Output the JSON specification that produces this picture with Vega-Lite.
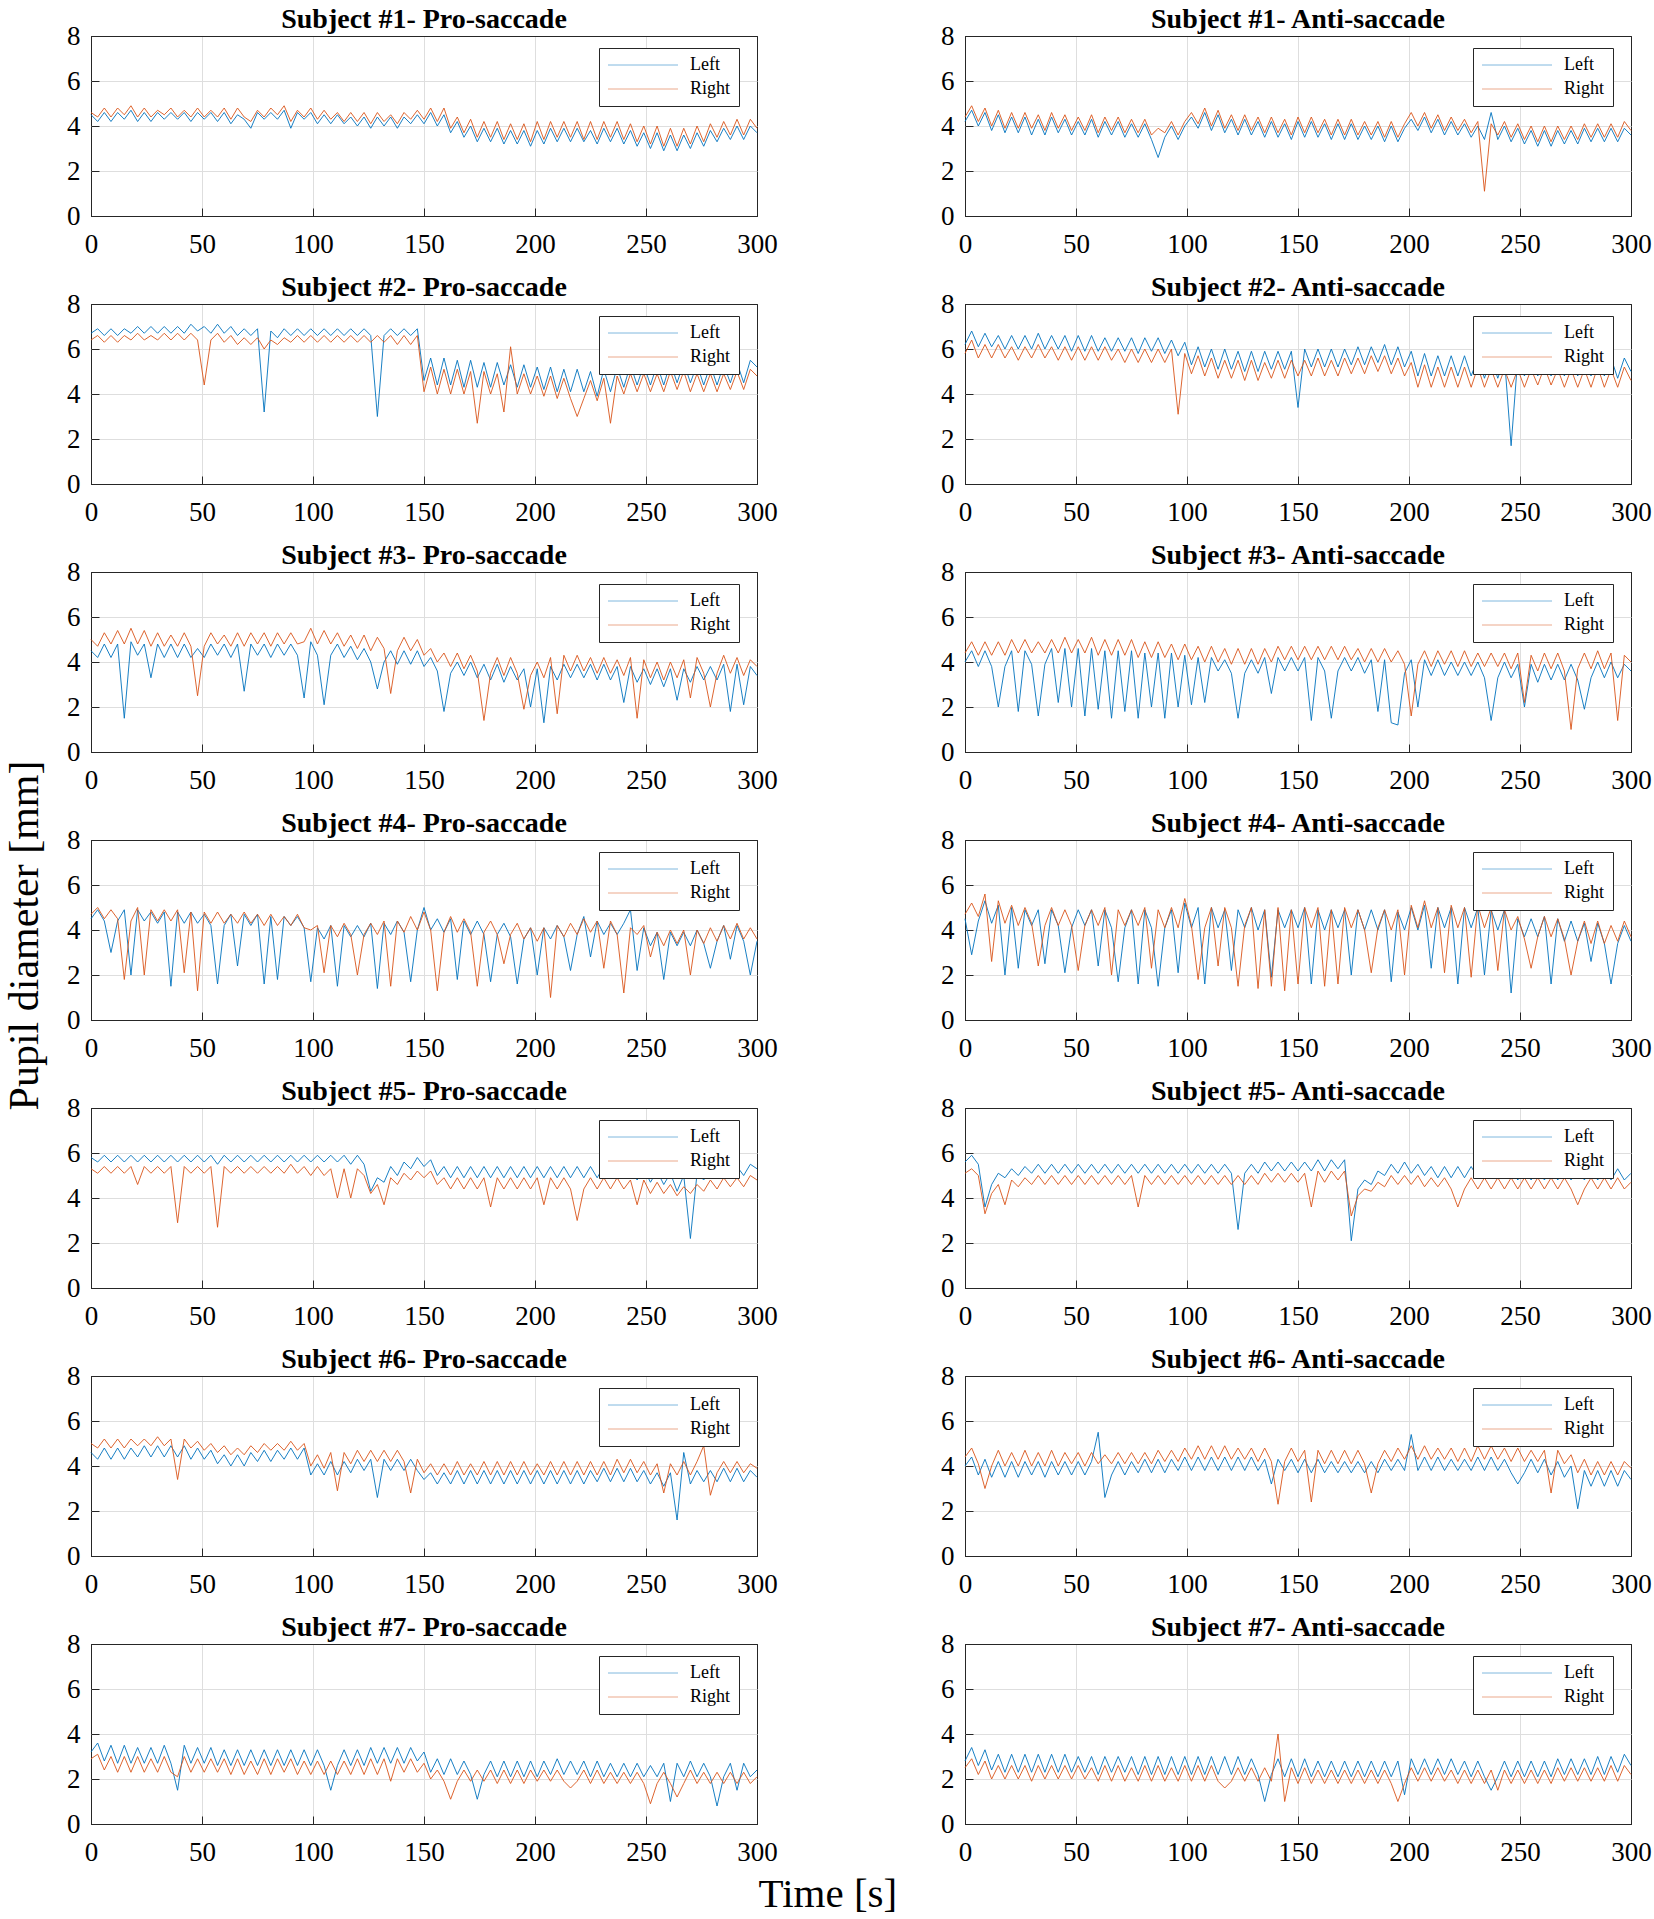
{
"$schema":"https://vega.github.io/schema/vega-lite/v6.json",
"padding":{"left":3,"top":5,"right":5,"bottom":2},
"datasets":{
"p1":[{"t":0,"L":4.5,"R":4.6},{"t":3,"L":4.2,"R":4.4},{"t":6,"L":4.6,"R":4.8},{"t":9,"L":4.2,"R":4.4},{"t":12,"L":4.6,"R":4.8},{"t":15,"L":4.3,"R":4.5},{"t":18,"L":4.7,"R":4.9},{"t":21,"L":4.2,"R":4.4},{"t":24,"L":4.6,"R":4.8},{"t":27,"L":4.2,"R":4.4},{"t":30,"L":4.6,"R":4.7},{"t":33,"L":4.3,"R":4.5},{"t":36,"L":4.6,"R":4.8},{"t":39,"L":4.3,"R":4.4},{"t":42,"L":4.6,"R":4.7},{"t":45,"L":4.2,"R":4.4},{"t":48,"L":4.6,"R":4.8},{"t":51,"L":4.3,"R":4.4},{"t":54,"L":4.6,"R":4.7},{"t":57,"L":4.2,"R":4.4},{"t":60,"L":4.6,"R":4.8},{"t":63,"L":4.1,"R":4.3},{"t":66,"L":4.5,"R":4.8},{"t":69,"L":4.3,"R":4.4},{"t":72,"L":3.9,"R":4.2},{"t":75,"L":4.6,"R":4.7},{"t":78,"L":4.3,"R":4.4},{"t":81,"L":4.6,"R":4.8},{"t":84,"L":4.3,"R":4.5},{"t":87,"L":4.7,"R":4.9},{"t":90,"L":3.9,"R":4.2},{"t":93,"L":4.6,"R":4.7},{"t":96,"L":4.3,"R":4.4},{"t":99,"L":4.6,"R":4.8},{"t":102,"L":4.1,"R":4.3},{"t":105,"L":4.5,"R":4.7},{"t":108,"L":4.1,"R":4.3},{"t":111,"L":4.5,"R":4.6},{"t":114,"L":4.1,"R":4.2},{"t":117,"L":4.4,"R":4.6},{"t":120,"L":4.0,"R":4.2},{"t":123,"L":4.4,"R":4.6},{"t":126,"L":3.9,"R":4.1},{"t":129,"L":4.4,"R":4.6},{"t":132,"L":4.0,"R":4.2},{"t":135,"L":4.4,"R":4.5},{"t":138,"L":3.9,"R":4.1},{"t":141,"L":4.4,"R":4.6},{"t":144,"L":4.1,"R":4.3},{"t":147,"L":4.5,"R":4.7},{"t":150,"L":4.1,"R":4.3},{"t":153,"L":4.6,"R":4.8},{"t":156,"L":4.0,"R":4.2},{"t":159,"L":4.5,"R":4.8},{"t":162,"L":3.7,"R":3.9},{"t":165,"L":4.2,"R":4.4},{"t":168,"L":3.5,"R":3.7},{"t":171,"L":4.0,"R":4.3},{"t":174,"L":3.3,"R":3.5},{"t":177,"L":3.9,"R":4.2},{"t":180,"L":3.3,"R":3.5},{"t":183,"L":3.9,"R":4.2},{"t":186,"L":3.2,"R":3.4},{"t":189,"L":3.8,"R":4.1},{"t":192,"L":3.2,"R":3.4},{"t":195,"L":3.8,"R":4.1},{"t":198,"L":3.1,"R":3.3},{"t":201,"L":3.8,"R":4.2},{"t":204,"L":3.2,"R":3.4},{"t":207,"L":3.9,"R":4.2},{"t":210,"L":3.3,"R":3.5},{"t":213,"L":3.9,"R":4.2},{"t":216,"L":3.3,"R":3.5},{"t":219,"L":3.9,"R":4.2},{"t":222,"L":3.3,"R":3.4},{"t":225,"L":3.8,"R":4.2},{"t":228,"L":3.2,"R":3.4},{"t":231,"L":3.9,"R":4.2},{"t":234,"L":3.3,"R":3.5},{"t":237,"L":3.9,"R":4.2},{"t":240,"L":3.2,"R":3.4},{"t":243,"L":3.8,"R":4.1},{"t":246,"L":3.1,"R":3.3},{"t":249,"L":3.7,"R":4.0},{"t":252,"L":3.0,"R":3.2},{"t":255,"L":3.7,"R":4.0},{"t":258,"L":2.9,"R":3.1},{"t":261,"L":3.6,"R":3.9},{"t":264,"L":2.9,"R":3.1},{"t":267,"L":3.6,"R":3.9},{"t":270,"L":3.0,"R":3.2},{"t":273,"L":3.7,"R":4.0},{"t":276,"L":3.1,"R":3.3},{"t":279,"L":3.8,"R":4.1},{"t":282,"L":3.3,"R":3.5},{"t":285,"L":3.9,"R":4.2},{"t":288,"L":3.4,"R":3.6},{"t":291,"L":4.0,"R":4.3},{"t":294,"L":3.4,"R":3.6},{"t":297,"L":4.0,"R":4.3},{"t":300,"L":3.7,"R":3.9}],
"p2":[{"t":0,"L":4.2,"R":4.4},{"t":3,"L":4.7,"R":4.9},{"t":6,"L":4.0,"R":4.2},{"t":9,"L":4.6,"R":4.8},{"t":12,"L":3.8,"R":4.0},{"t":15,"L":4.5,"R":4.7},{"t":18,"L":3.7,"R":3.9},{"t":21,"L":4.4,"R":4.6},{"t":24,"L":3.7,"R":3.9},{"t":27,"L":4.4,"R":4.6},{"t":30,"L":3.6,"R":3.9},{"t":33,"L":4.3,"R":4.5},{"t":36,"L":3.6,"R":3.8},{"t":39,"L":4.4,"R":4.6},{"t":42,"L":3.7,"R":3.9},{"t":45,"L":4.3,"R":4.5},{"t":48,"L":3.6,"R":3.8},{"t":51,"L":4.2,"R":4.4},{"t":54,"L":3.6,"R":3.8},{"t":57,"L":4.3,"R":4.5},{"t":60,"L":3.5,"R":3.7},{"t":63,"L":4.2,"R":4.4},{"t":66,"L":3.6,"R":3.8},{"t":69,"L":4.2,"R":4.4},{"t":72,"L":3.5,"R":3.7},{"t":75,"L":4.1,"R":4.3},{"t":78,"L":3.5,"R":3.7},{"t":81,"L":4.1,"R":4.3},{"t":84,"L":3.4,"R":3.6},{"t":87,"L":2.6,"R":3.9},{"t":90,"L":3.5,"R":3.7},{"t":93,"L":4.0,"R":4.2},{"t":96,"L":3.4,"R":3.6},{"t":99,"L":4.0,"R":4.2},{"t":102,"L":4.4,"R":4.6},{"t":105,"L":3.9,"R":4.1},{"t":108,"L":4.6,"R":4.8},{"t":111,"L":3.8,"R":4.0},{"t":114,"L":4.5,"R":4.7},{"t":117,"L":3.7,"R":3.9},{"t":120,"L":4.3,"R":4.5},{"t":123,"L":3.6,"R":3.8},{"t":126,"L":4.3,"R":4.5},{"t":129,"L":3.6,"R":3.8},{"t":132,"L":4.2,"R":4.4},{"t":135,"L":3.5,"R":3.7},{"t":138,"L":4.2,"R":4.4},{"t":141,"L":3.5,"R":3.7},{"t":144,"L":4.1,"R":4.3},{"t":147,"L":3.4,"R":3.6},{"t":150,"L":4.2,"R":4.4},{"t":153,"L":3.5,"R":3.7},{"t":156,"L":4.2,"R":4.4},{"t":159,"L":3.5,"R":3.7},{"t":162,"L":4.1,"R":4.3},{"t":165,"L":3.4,"R":3.6},{"t":168,"L":4.1,"R":4.3},{"t":171,"L":3.4,"R":3.6},{"t":174,"L":4.1,"R":4.3},{"t":177,"L":3.4,"R":3.6},{"t":180,"L":4.0,"R":4.2},{"t":183,"L":3.4,"R":3.6},{"t":186,"L":4.0,"R":4.2},{"t":189,"L":3.3,"R":3.5},{"t":192,"L":4.0,"R":4.2},{"t":195,"L":3.3,"R":3.5},{"t":198,"L":3.9,"R":4.1},{"t":201,"L":4.3,"R":4.6},{"t":204,"L":3.8,"R":4.0},{"t":207,"L":4.4,"R":4.6},{"t":210,"L":3.7,"R":3.9},{"t":213,"L":4.3,"R":4.5},{"t":216,"L":3.6,"R":3.8},{"t":219,"L":4.2,"R":4.4},{"t":222,"L":3.6,"R":3.8},{"t":225,"L":4.1,"R":4.3},{"t":228,"L":3.5,"R":3.7},{"t":231,"L":4.0,"R":4.2},{"t":234,"L":3.4,"R":1.1},{"t":237,"L":4.6,"R":4.1},{"t":240,"L":3.4,"R":3.6},{"t":243,"L":4.0,"R":4.2},{"t":246,"L":3.3,"R":3.5},{"t":249,"L":3.9,"R":4.1},{"t":252,"L":3.2,"R":3.4},{"t":255,"L":3.8,"R":4.0},{"t":258,"L":3.1,"R":3.3},{"t":261,"L":3.8,"R":4.0},{"t":264,"L":3.1,"R":3.3},{"t":267,"L":3.8,"R":4.0},{"t":270,"L":3.2,"R":3.4},{"t":273,"L":3.8,"R":4.0},{"t":276,"L":3.2,"R":3.4},{"t":279,"L":3.9,"R":4.1},{"t":282,"L":3.3,"R":3.5},{"t":285,"L":3.9,"R":4.1},{"t":288,"L":3.3,"R":3.5},{"t":291,"L":3.9,"R":4.1},{"t":294,"L":3.3,"R":3.5},{"t":297,"L":3.9,"R":4.2},{"t":300,"L":3.6,"R":3.8}],
"p3":[{"t":0,"L":6.7,"R":6.4},{"t":3,"L":6.9,"R":6.6},{"t":6,"L":6.6,"R":6.3},{"t":9,"L":6.9,"R":6.6},{"t":12,"L":6.6,"R":6.3},{"t":15,"L":6.9,"R":6.6},{"t":18,"L":6.7,"R":6.4},{"t":21,"L":7.0,"R":6.7},{"t":24,"L":6.7,"R":6.4},{"t":27,"L":7.0,"R":6.6},{"t":30,"L":6.7,"R":6.4},{"t":33,"L":7.0,"R":6.7},{"t":36,"L":6.7,"R":6.4},{"t":39,"L":7.0,"R":6.7},{"t":42,"L":6.7,"R":6.4},{"t":45,"L":7.1,"R":6.7},{"t":48,"L":6.8,"R":6.4},{"t":51,"L":7.0,"R":4.4},{"t":54,"L":6.7,"R":6.4},{"t":57,"L":7.1,"R":6.7},{"t":60,"L":6.7,"R":6.3},{"t":63,"L":7.0,"R":6.6},{"t":66,"L":6.6,"R":6.2},{"t":69,"L":6.9,"R":6.5},{"t":72,"L":6.6,"R":6.2},{"t":75,"L":6.9,"R":6.5},{"t":78,"L":3.2,"R":6.0},{"t":81,"L":6.8,"R":6.4},{"t":84,"L":6.5,"R":6.2},{"t":87,"L":6.9,"R":6.5},{"t":90,"L":6.6,"R":6.3},{"t":93,"L":6.9,"R":6.6},{"t":96,"L":6.6,"R":6.3},{"t":99,"L":6.9,"R":6.6},{"t":102,"L":6.6,"R":6.3},{"t":105,"L":6.9,"R":6.6},{"t":108,"L":6.6,"R":6.3},{"t":111,"L":6.9,"R":6.6},{"t":114,"L":6.6,"R":6.3},{"t":117,"L":6.9,"R":6.6},{"t":120,"L":6.6,"R":6.3},{"t":123,"L":6.9,"R":6.6},{"t":126,"L":6.6,"R":6.3},{"t":129,"L":3.0,"R":6.6},{"t":132,"L":6.6,"R":6.3},{"t":135,"L":6.9,"R":6.6},{"t":138,"L":6.6,"R":6.2},{"t":141,"L":6.9,"R":6.6},{"t":144,"L":6.6,"R":6.2},{"t":147,"L":6.9,"R":6.6},{"t":150,"L":4.6,"R":4.1},{"t":153,"L":5.6,"R":5.2},{"t":156,"L":4.4,"R":4.0},{"t":159,"L":5.6,"R":5.1},{"t":162,"L":4.4,"R":4.0},{"t":165,"L":5.5,"R":5.1},{"t":168,"L":4.3,"R":4.0},{"t":171,"L":5.5,"R":5.0},{"t":174,"L":4.3,"R":2.7},{"t":177,"L":5.4,"R":5.0},{"t":180,"L":4.3,"R":4.0},{"t":183,"L":5.4,"R":4.9},{"t":186,"L":4.4,"R":3.2},{"t":189,"L":5.3,"R":6.1},{"t":192,"L":4.3,"R":4.0},{"t":195,"L":5.3,"R":4.9},{"t":198,"L":4.3,"R":4.0},{"t":201,"L":5.2,"R":4.8},{"t":204,"L":4.2,"R":3.9},{"t":207,"L":5.2,"R":4.8},{"t":210,"L":4.1,"R":3.8},{"t":213,"L":5.1,"R":4.7},{"t":216,"L":4.1,"R":3.8},{"t":219,"L":5.1,"R":3.0},{"t":222,"L":4.1,"R":3.8},{"t":225,"L":5.0,"R":4.6},{"t":228,"L":3.9,"R":3.7},{"t":231,"L":5.1,"R":4.7},{"t":234,"L":4.1,"R":2.7},{"t":237,"L":5.2,"R":4.8},{"t":240,"L":4.3,"R":4.0},{"t":243,"L":5.3,"R":4.9},{"t":246,"L":4.4,"R":4.1},{"t":249,"L":5.3,"R":4.9},{"t":252,"L":4.4,"R":4.1},{"t":255,"L":5.3,"R":4.9},{"t":258,"L":4.4,"R":4.1},{"t":261,"L":5.4,"R":5.0},{"t":264,"L":4.5,"R":4.2},{"t":267,"L":5.4,"R":5.0},{"t":270,"L":4.5,"R":4.1},{"t":273,"L":5.3,"R":4.9},{"t":276,"L":4.4,"R":4.1},{"t":279,"L":5.3,"R":4.9},{"t":282,"L":4.4,"R":4.1},{"t":285,"L":5.3,"R":4.9},{"t":288,"L":4.5,"R":4.2},{"t":291,"L":5.4,"R":5.0},{"t":294,"L":4.5,"R":4.2},{"t":297,"L":5.5,"R":5.1},{"t":300,"L":5.2,"R":4.8}],
"p4":[{"t":0,"L":6.2,"R":5.8},{"t":3,"L":6.8,"R":6.4},{"t":6,"L":6.1,"R":5.6},{"t":9,"L":6.7,"R":6.2},{"t":12,"L":6.1,"R":5.6},{"t":15,"L":6.6,"R":6.2},{"t":18,"L":6.0,"R":5.6},{"t":21,"L":6.6,"R":6.1},{"t":24,"L":6.0,"R":5.5},{"t":27,"L":6.6,"R":6.1},{"t":30,"L":6.0,"R":5.6},{"t":33,"L":6.7,"R":6.2},{"t":36,"L":6.0,"R":5.6},{"t":39,"L":6.6,"R":6.1},{"t":42,"L":6.0,"R":5.5},{"t":45,"L":6.6,"R":6.1},{"t":48,"L":5.9,"R":5.5},{"t":51,"L":6.6,"R":6.1},{"t":54,"L":5.9,"R":5.5},{"t":57,"L":6.6,"R":6.1},{"t":60,"L":5.9,"R":5.5},{"t":63,"L":6.5,"R":6.1},{"t":66,"L":5.9,"R":5.5},{"t":69,"L":6.5,"R":6.0},{"t":72,"L":5.9,"R":5.4},{"t":75,"L":6.5,"R":6.0},{"t":78,"L":5.8,"R":5.4},{"t":81,"L":6.5,"R":6.0},{"t":84,"L":5.9,"R":5.4},{"t":87,"L":6.5,"R":6.0},{"t":90,"L":5.8,"R":5.4},{"t":93,"L":6.4,"R":6.0},{"t":96,"L":5.7,"R":3.1},{"t":99,"L":6.3,"R":5.8},{"t":102,"L":5.3,"R":4.9},{"t":105,"L":6.1,"R":5.7},{"t":108,"L":5.2,"R":4.8},{"t":111,"L":6.0,"R":5.6},{"t":114,"L":5.1,"R":4.7},{"t":117,"L":6.0,"R":5.5},{"t":120,"L":5.1,"R":4.7},{"t":123,"L":5.9,"R":5.5},{"t":126,"L":5.0,"R":4.6},{"t":129,"L":5.9,"R":5.5},{"t":132,"L":5.0,"R":4.6},{"t":135,"L":5.9,"R":5.4},{"t":138,"L":5.1,"R":4.7},{"t":141,"L":5.9,"R":5.5},{"t":144,"L":5.1,"R":4.7},{"t":147,"L":5.9,"R":5.5},{"t":150,"L":3.4,"R":4.8},{"t":153,"L":6.0,"R":5.5},{"t":156,"L":5.2,"R":4.8},{"t":159,"L":6.0,"R":5.6},{"t":162,"L":5.2,"R":4.8},{"t":165,"L":6.0,"R":5.5},{"t":168,"L":5.2,"R":4.8},{"t":171,"L":6.0,"R":5.6},{"t":174,"L":5.3,"R":4.9},{"t":177,"L":6.1,"R":5.6},{"t":180,"L":5.3,"R":4.9},{"t":183,"L":6.1,"R":5.7},{"t":186,"L":5.4,"R":5.0},{"t":189,"L":6.2,"R":5.7},{"t":192,"L":5.3,"R":4.9},{"t":195,"L":6.1,"R":5.6},{"t":198,"L":5.2,"R":4.8},{"t":201,"L":5.9,"R":5.4},{"t":204,"L":4.8,"R":4.3},{"t":207,"L":5.8,"R":5.3},{"t":210,"L":4.8,"R":4.3},{"t":213,"L":5.7,"R":5.2},{"t":216,"L":4.8,"R":4.3},{"t":219,"L":5.7,"R":5.2},{"t":222,"L":4.8,"R":4.3},{"t":225,"L":5.7,"R":5.2},{"t":228,"L":4.8,"R":4.3},{"t":231,"L":5.6,"R":5.2},{"t":234,"L":4.7,"R":4.3},{"t":237,"L":5.6,"R":5.1},{"t":240,"L":4.7,"R":4.3},{"t":243,"L":5.6,"R":5.1},{"t":246,"L":1.7,"R":4.3},{"t":249,"L":5.6,"R":5.1},{"t":252,"L":4.8,"R":4.3},{"t":255,"L":5.6,"R":5.1},{"t":258,"L":4.8,"R":4.4},{"t":261,"L":5.6,"R":5.2},{"t":264,"L":4.8,"R":4.4},{"t":267,"L":5.6,"R":5.1},{"t":270,"L":4.8,"R":4.3},{"t":273,"L":5.6,"R":5.1},{"t":276,"L":4.8,"R":4.3},{"t":279,"L":5.6,"R":5.1},{"t":282,"L":4.8,"R":4.3},{"t":285,"L":5.7,"R":5.2},{"t":288,"L":4.8,"R":4.3},{"t":291,"L":5.6,"R":5.1},{"t":294,"L":4.7,"R":4.3},{"t":297,"L":5.6,"R":5.2},{"t":300,"L":5.0,"R":4.6}],
"p5":[{"t":0,"L":4.5,"R":5.0},{"t":3,"L":4.2,"R":4.7},{"t":6,"L":4.8,"R":5.3},{"t":9,"L":4.2,"R":4.8},{"t":12,"L":4.8,"R":5.4},{"t":15,"L":1.5,"R":4.8},{"t":18,"L":4.9,"R":5.5},{"t":21,"L":4.3,"R":4.8},{"t":24,"L":4.8,"R":5.4},{"t":27,"L":3.3,"R":4.7},{"t":30,"L":4.8,"R":5.3},{"t":33,"L":4.2,"R":4.7},{"t":36,"L":4.8,"R":5.2},{"t":39,"L":4.2,"R":4.7},{"t":42,"L":4.8,"R":5.3},{"t":45,"L":4.2,"R":4.7},{"t":48,"L":4.6,"R":2.5},{"t":51,"L":4.2,"R":4.7},{"t":54,"L":4.8,"R":5.3},{"t":57,"L":4.3,"R":4.8},{"t":60,"L":4.8,"R":5.2},{"t":63,"L":4.2,"R":4.7},{"t":66,"L":4.8,"R":5.3},{"t":69,"L":2.7,"R":4.7},{"t":72,"L":4.8,"R":5.3},{"t":75,"L":4.3,"R":4.8},{"t":78,"L":4.8,"R":5.3},{"t":81,"L":4.2,"R":4.7},{"t":84,"L":4.8,"R":5.3},{"t":87,"L":4.3,"R":4.8},{"t":90,"L":4.8,"R":5.3},{"t":93,"L":4.3,"R":4.8},{"t":96,"L":2.4,"R":4.9},{"t":99,"L":4.9,"R":5.5},{"t":102,"L":4.3,"R":4.8},{"t":105,"L":2.1,"R":5.4},{"t":108,"L":4.3,"R":4.8},{"t":111,"L":4.8,"R":5.3},{"t":114,"L":4.2,"R":4.7},{"t":117,"L":4.7,"R":5.2},{"t":120,"L":4.1,"R":4.6},{"t":123,"L":4.6,"R":5.2},{"t":126,"L":4.0,"R":4.5},{"t":129,"L":2.8,"R":5.1},{"t":132,"L":4.0,"R":4.6},{"t":135,"L":4.5,"R":2.6},{"t":138,"L":3.9,"R":4.5},{"t":141,"L":4.5,"R":5.1},{"t":144,"L":3.9,"R":4.5},{"t":147,"L":4.5,"R":5.0},{"t":150,"L":3.8,"R":4.3},{"t":153,"L":4.2,"R":4.6},{"t":156,"L":3.6,"R":4.0},{"t":159,"L":1.8,"R":4.4},{"t":162,"L":3.5,"R":3.8},{"t":165,"L":4.0,"R":4.4},{"t":168,"L":3.4,"R":3.7},{"t":171,"L":4.0,"R":4.3},{"t":174,"L":3.3,"R":3.6},{"t":177,"L":3.9,"R":1.4},{"t":180,"L":3.2,"R":3.5},{"t":183,"L":3.9,"R":4.2},{"t":186,"L":3.1,"R":3.4},{"t":189,"L":3.8,"R":4.2},{"t":192,"L":3.2,"R":3.5},{"t":195,"L":3.7,"R":1.9},{"t":198,"L":2.0,"R":3.4},{"t":201,"L":3.7,"R":4.0},{"t":204,"L":1.3,"R":3.3},{"t":207,"L":3.8,"R":4.2},{"t":210,"L":3.2,"R":1.7},{"t":213,"L":3.9,"R":4.3},{"t":216,"L":3.3,"R":3.6},{"t":219,"L":3.9,"R":4.3},{"t":222,"L":3.3,"R":3.6},{"t":225,"L":3.9,"R":4.2},{"t":228,"L":3.2,"R":3.5},{"t":231,"L":3.9,"R":4.2},{"t":234,"L":3.2,"R":3.5},{"t":237,"L":3.8,"R":4.1},{"t":240,"L":2.2,"R":3.4},{"t":243,"L":3.8,"R":4.2},{"t":246,"L":3.1,"R":1.5},{"t":249,"L":3.7,"R":4.1},{"t":252,"L":3.0,"R":3.3},{"t":255,"L":3.7,"R":4.0},{"t":258,"L":2.9,"R":3.2},{"t":261,"L":3.7,"R":4.0},{"t":264,"L":2.3,"R":3.3},{"t":267,"L":3.7,"R":4.1},{"t":270,"L":3.1,"R":2.4},{"t":273,"L":3.8,"R":4.2},{"t":276,"L":3.2,"R":3.5},{"t":279,"L":3.8,"R":2.0},{"t":282,"L":3.2,"R":3.5},{"t":285,"L":3.9,"R":4.3},{"t":288,"L":1.8,"R":3.5},{"t":291,"L":3.9,"R":4.2},{"t":294,"L":2.1,"R":3.4},{"t":297,"L":3.8,"R":4.1},{"t":300,"L":3.4,"R":3.8}],
"p6":[{"t":0,"L":4.0,"R":4.4},{"t":3,"L":4.5,"R":4.9},{"t":6,"L":3.8,"R":4.3},{"t":9,"L":4.5,"R":4.9},{"t":12,"L":3.8,"R":4.3},{"t":15,"L":2.0,"R":4.9},{"t":18,"L":3.8,"R":4.3},{"t":21,"L":4.5,"R":5.0},{"t":24,"L":1.8,"R":4.4},{"t":27,"L":4.5,"R":5.0},{"t":30,"L":3.9,"R":4.4},{"t":33,"L":1.6,"R":4.9},{"t":36,"L":3.9,"R":4.4},{"t":39,"L":4.6,"R":5.0},{"t":42,"L":2.2,"R":4.4},{"t":45,"L":4.6,"R":5.1},{"t":48,"L":2.0,"R":4.4},{"t":51,"L":4.6,"R":5.0},{"t":54,"L":1.6,"R":4.4},{"t":57,"L":4.6,"R":5.1},{"t":60,"L":1.9,"R":4.3},{"t":63,"L":4.5,"R":5.0},{"t":66,"L":1.5,"R":4.3},{"t":69,"L":4.5,"R":5.0},{"t":72,"L":1.8,"R":4.3},{"t":75,"L":4.5,"R":5.0},{"t":78,"L":1.5,"R":4.2},{"t":81,"L":4.4,"R":4.9},{"t":84,"L":2.0,"R":4.2},{"t":87,"L":4.4,"R":4.9},{"t":90,"L":1.5,"R":4.2},{"t":93,"L":4.4,"R":4.8},{"t":96,"L":2.0,"R":4.1},{"t":99,"L":4.3,"R":4.8},{"t":102,"L":2.1,"R":4.1},{"t":105,"L":4.2,"R":4.7},{"t":108,"L":2.2,"R":4.0},{"t":111,"L":4.2,"R":4.7},{"t":114,"L":3.6,"R":4.0},{"t":117,"L":4.1,"R":4.6},{"t":120,"L":3.5,"R":3.9},{"t":123,"L":1.5,"R":4.6},{"t":126,"L":3.5,"R":3.9},{"t":129,"L":4.1,"R":4.6},{"t":132,"L":3.5,"R":3.9},{"t":135,"L":4.2,"R":4.6},{"t":138,"L":2.6,"R":4.0},{"t":141,"L":4.2,"R":4.7},{"t":144,"L":3.6,"R":4.1},{"t":147,"L":4.2,"R":4.7},{"t":150,"L":3.6,"R":4.1},{"t":153,"L":4.2,"R":4.7},{"t":156,"L":1.4,"R":4.1},{"t":159,"L":4.2,"R":4.7},{"t":162,"L":3.6,"R":4.1},{"t":165,"L":1.5,"R":4.7},{"t":168,"L":3.6,"R":4.1},{"t":171,"L":4.2,"R":4.7},{"t":174,"L":3.6,"R":4.1},{"t":177,"L":4.2,"R":4.6},{"t":180,"L":3.5,"R":4.0},{"t":183,"L":4.1,"R":4.6},{"t":186,"L":1.8,"R":4.0},{"t":189,"L":4.1,"R":4.6},{"t":192,"L":1.3,"R":4.0},{"t":195,"L":1.2,"R":4.5},{"t":198,"L":3.5,"R":3.9},{"t":201,"L":4.1,"R":1.6},{"t":204,"L":2.0,"R":3.9},{"t":207,"L":4.1,"R":4.5},{"t":210,"L":3.4,"R":3.8},{"t":213,"L":4.1,"R":4.5},{"t":216,"L":3.4,"R":3.9},{"t":219,"L":4.0,"R":4.5},{"t":222,"L":3.4,"R":3.8},{"t":225,"L":4.0,"R":4.5},{"t":228,"L":3.4,"R":3.8},{"t":231,"L":4.0,"R":4.4},{"t":234,"L":3.3,"R":3.8},{"t":237,"L":1.4,"R":4.4},{"t":240,"L":3.3,"R":3.8},{"t":243,"L":4.0,"R":4.4},{"t":246,"L":3.3,"R":3.7},{"t":249,"L":3.9,"R":4.4},{"t":252,"L":2.0,"R":2.2},{"t":255,"L":3.9,"R":4.3},{"t":258,"L":3.1,"R":3.6},{"t":261,"L":3.9,"R":4.4},{"t":264,"L":3.2,"R":3.7},{"t":267,"L":3.9,"R":4.4},{"t":270,"L":3.2,"R":3.6},{"t":273,"L":3.9,"R":1.0},{"t":276,"L":3.2,"R":3.7},{"t":279,"L":1.9,"R":4.4},{"t":282,"L":3.3,"R":3.7},{"t":285,"L":4.0,"R":4.5},{"t":288,"L":3.3,"R":3.7},{"t":291,"L":4.0,"R":4.4},{"t":294,"L":3.3,"R":1.4},{"t":297,"L":3.9,"R":4.3},{"t":300,"L":3.6,"R":4.0}],
"p7":[{"t":0,"L":4.5,"R":4.7},{"t":3,"L":4.9,"R":5.0},{"t":6,"L":4.4,"R":4.5},{"t":9,"L":3.0,"R":4.9},{"t":12,"L":4.4,"R":4.5},{"t":15,"L":4.9,"R":1.8},{"t":18,"L":2.0,"R":4.4},{"t":21,"L":4.9,"R":5.0},{"t":24,"L":4.4,"R":2.0},{"t":27,"L":4.8,"R":4.9},{"t":30,"L":4.3,"R":4.4},{"t":33,"L":4.8,"R":4.9},{"t":36,"L":1.5,"R":4.4},{"t":39,"L":4.8,"R":4.9},{"t":42,"L":4.3,"R":2.1},{"t":45,"L":4.8,"R":4.8},{"t":48,"L":4.3,"R":1.3},{"t":51,"L":4.7,"R":4.8},{"t":54,"L":4.2,"R":4.3},{"t":57,"L":1.6,"R":4.8},{"t":60,"L":4.2,"R":4.3},{"t":63,"L":4.7,"R":4.7},{"t":66,"L":2.4,"R":4.3},{"t":69,"L":4.7,"R":4.8},{"t":72,"L":4.2,"R":4.3},{"t":75,"L":4.7,"R":4.7},{"t":78,"L":1.6,"R":4.2},{"t":81,"L":4.6,"R":4.7},{"t":84,"L":1.8,"R":4.2},{"t":87,"L":4.6,"R":4.6},{"t":90,"L":4.2,"R":4.2},{"t":93,"L":4.6,"R":4.7},{"t":96,"L":4.1,"R":4.1},{"t":99,"L":1.7,"R":4.0},{"t":102,"L":4.1,"R":4.2},{"t":105,"L":3.6,"R":2.1},{"t":108,"L":4.2,"R":4.2},{"t":111,"L":1.5,"R":3.7},{"t":114,"L":4.2,"R":4.3},{"t":117,"L":3.7,"R":3.8},{"t":120,"L":4.2,"R":2.0},{"t":123,"L":3.7,"R":3.8},{"t":126,"L":4.3,"R":4.3},{"t":129,"L":1.4,"R":3.8},{"t":132,"L":4.3,"R":4.4},{"t":135,"L":3.8,"R":1.5},{"t":138,"L":4.4,"R":4.4},{"t":141,"L":3.9,"R":3.9},{"t":144,"L":1.7,"R":4.6},{"t":147,"L":4.0,"R":4.0},{"t":150,"L":5.0,"R":4.8},{"t":153,"L":4.0,"R":4.0},{"t":156,"L":4.5,"R":1.3},{"t":159,"L":3.9,"R":3.9},{"t":162,"L":4.5,"R":4.6},{"t":165,"L":1.8,"R":3.9},{"t":168,"L":4.4,"R":4.5},{"t":171,"L":3.8,"R":3.9},{"t":174,"L":4.4,"R":1.5},{"t":177,"L":3.8,"R":3.9},{"t":180,"L":1.7,"R":4.4},{"t":183,"L":3.8,"R":3.8},{"t":186,"L":4.3,"R":2.5},{"t":189,"L":3.7,"R":3.8},{"t":192,"L":1.6,"R":4.3},{"t":195,"L":3.6,"R":3.6},{"t":198,"L":4.1,"R":4.1},{"t":201,"L":2.0,"R":3.5},{"t":204,"L":4.1,"R":4.1},{"t":207,"L":3.6,"R":1.0},{"t":210,"L":4.2,"R":4.2},{"t":213,"L":3.7,"R":3.7},{"t":216,"L":2.2,"R":4.3},{"t":219,"L":3.8,"R":3.8},{"t":222,"L":4.6,"R":4.5},{"t":225,"L":2.8,"R":3.9},{"t":228,"L":4.4,"R":4.4},{"t":231,"L":3.8,"R":2.3},{"t":234,"L":4.3,"R":4.4},{"t":237,"L":3.8,"R":3.8},{"t":240,"L":4.3,"R":1.2},{"t":243,"L":4.9,"R":4.1},{"t":246,"L":2.2,"R":3.8},{"t":249,"L":4.1,"R":4.2},{"t":252,"L":3.3,"R":2.8},{"t":255,"L":3.9,"R":3.9},{"t":258,"L":1.8,"R":3.3},{"t":261,"L":3.9,"R":4.0},{"t":264,"L":3.3,"R":3.4},{"t":267,"L":3.9,"R":4.0},{"t":270,"L":3.3,"R":2.0},{"t":273,"L":4.0,"R":4.0},{"t":276,"L":3.4,"R":3.4},{"t":279,"L":2.3,"R":4.1},{"t":282,"L":3.5,"R":3.5},{"t":285,"L":4.2,"R":4.2},{"t":288,"L":2.7,"R":3.6},{"t":291,"L":4.2,"R":4.3},{"t":294,"L":3.5,"R":3.6},{"t":297,"L":2.0,"R":4.1},{"t":300,"L":3.5,"R":3.6}],
"p8":[{"t":0,"L":4.5,"R":4.7},{"t":3,"L":2.9,"R":5.2},{"t":6,"L":4.4,"R":4.6},{"t":9,"L":5.3,"R":5.6},{"t":12,"L":4.3,"R":2.6},{"t":15,"L":5.1,"R":5.3},{"t":18,"L":2.0,"R":4.3},{"t":21,"L":5.0,"R":5.1},{"t":24,"L":2.3,"R":4.2},{"t":27,"L":4.9,"R":5.0},{"t":30,"L":4.2,"R":4.3},{"t":33,"L":4.9,"R":2.4},{"t":36,"L":2.5,"R":4.2},{"t":39,"L":4.9,"R":5.0},{"t":42,"L":4.2,"R":4.2},{"t":45,"L":2.1,"R":4.9},{"t":48,"L":4.1,"R":4.2},{"t":51,"L":4.9,"R":2.2},{"t":54,"L":4.2,"R":4.2},{"t":57,"L":4.9,"R":4.9},{"t":60,"L":2.4,"R":4.2},{"t":63,"L":4.9,"R":5.0},{"t":66,"L":4.1,"R":2.0},{"t":69,"L":1.7,"R":4.9},{"t":72,"L":4.1,"R":4.2},{"t":75,"L":4.9,"R":4.9},{"t":78,"L":1.6,"R":4.2},{"t":81,"L":4.9,"R":5.0},{"t":84,"L":4.1,"R":2.3},{"t":87,"L":1.5,"R":4.9},{"t":90,"L":4.1,"R":4.1},{"t":93,"L":4.9,"R":5.0},{"t":96,"L":2.1,"R":4.1},{"t":99,"L":5.2,"R":5.4},{"t":102,"L":4.1,"R":4.2},{"t":105,"L":5.0,"R":1.8},{"t":108,"L":1.6,"R":4.1},{"t":111,"L":5.0,"R":5.0},{"t":114,"L":4.1,"R":2.4},{"t":117,"L":4.9,"R":5.0},{"t":120,"L":2.2,"R":4.1},{"t":123,"L":4.9,"R":1.5},{"t":126,"L":4.1,"R":4.2},{"t":129,"L":5.0,"R":5.0},{"t":132,"L":4.0,"R":1.4},{"t":135,"L":4.9,"R":4.9},{"t":138,"L":1.9,"R":1.5},{"t":141,"L":4.9,"R":5.0},{"t":144,"L":4.1,"R":1.3},{"t":147,"L":4.9,"R":4.9},{"t":150,"L":4.1,"R":1.6},{"t":153,"L":5.0,"R":5.0},{"t":156,"L":1.6,"R":4.1},{"t":159,"L":4.9,"R":5.0},{"t":162,"L":4.0,"R":1.5},{"t":165,"L":4.9,"R":4.9},{"t":168,"L":4.1,"R":1.6},{"t":171,"L":4.9,"R":5.0},{"t":174,"L":2.0,"R":4.1},{"t":177,"L":4.9,"R":4.9},{"t":180,"L":4.0,"R":4.0},{"t":183,"L":4.9,"R":2.1},{"t":186,"L":4.0,"R":4.1},{"t":189,"L":4.9,"R":4.9},{"t":192,"L":1.7,"R":4.0},{"t":195,"L":4.8,"R":4.9},{"t":198,"L":4.0,"R":2.0},{"t":201,"L":5.0,"R":5.1},{"t":204,"L":4.0,"R":4.1},{"t":207,"L":5.1,"R":5.3},{"t":210,"L":2.3,"R":4.1},{"t":213,"L":5.0,"R":5.0},{"t":216,"L":4.1,"R":2.1},{"t":219,"L":5.0,"R":5.1},{"t":222,"L":1.6,"R":4.1},{"t":225,"L":5.0,"R":5.0},{"t":228,"L":4.1,"R":1.9},{"t":231,"L":5.0,"R":5.1},{"t":234,"L":2.0,"R":4.1},{"t":237,"L":4.9,"R":5.0},{"t":240,"L":4.0,"R":2.2},{"t":243,"L":4.9,"R":4.9},{"t":246,"L":1.2,"R":4.0},{"t":249,"L":4.5,"R":4.6},{"t":252,"L":3.7,"R":3.6},{"t":255,"L":4.5,"R":2.3},{"t":258,"L":3.7,"R":3.7},{"t":261,"L":4.6,"R":4.6},{"t":264,"L":1.6,"R":3.7},{"t":267,"L":4.5,"R":4.5},{"t":270,"L":3.5,"R":3.6},{"t":273,"L":4.4,"R":2.0},{"t":276,"L":3.5,"R":3.5},{"t":279,"L":4.3,"R":4.4},{"t":282,"L":2.6,"R":3.4},{"t":285,"L":4.3,"R":4.4},{"t":288,"L":3.4,"R":3.4},{"t":291,"L":1.6,"R":4.2},{"t":294,"L":3.4,"R":3.5},{"t":297,"L":4.2,"R":4.4},{"t":300,"L":3.5,"R":3.7}],
"p9":[{"t":0,"L":5.8,"R":5.3},{"t":3,"L":5.6,"R":5.1},{"t":6,"L":5.9,"R":5.4},{"t":9,"L":5.6,"R":5.1},{"t":12,"L":5.9,"R":5.4},{"t":15,"L":5.6,"R":5.1},{"t":18,"L":5.9,"R":5.4},{"t":21,"L":5.6,"R":4.6},{"t":24,"L":5.9,"R":5.4},{"t":27,"L":5.6,"R":5.1},{"t":30,"L":5.9,"R":5.4},{"t":33,"L":5.6,"R":5.1},{"t":36,"L":5.9,"R":5.4},{"t":39,"L":5.6,"R":2.9},{"t":42,"L":5.9,"R":5.4},{"t":45,"L":5.6,"R":5.1},{"t":48,"L":5.9,"R":5.4},{"t":51,"L":5.6,"R":5.1},{"t":54,"L":5.9,"R":5.4},{"t":57,"L":5.5,"R":2.7},{"t":60,"L":5.9,"R":5.4},{"t":63,"L":5.6,"R":5.1},{"t":66,"L":5.9,"R":5.4},{"t":69,"L":5.6,"R":5.1},{"t":72,"L":5.9,"R":5.4},{"t":75,"L":5.6,"R":5.1},{"t":78,"L":5.9,"R":5.4},{"t":81,"L":5.6,"R":5.1},{"t":84,"L":5.9,"R":5.4},{"t":87,"L":5.6,"R":5.1},{"t":90,"L":5.9,"R":5.5},{"t":93,"L":5.6,"R":5.1},{"t":96,"L":5.9,"R":5.4},{"t":99,"L":5.6,"R":5.0},{"t":102,"L":5.9,"R":5.4},{"t":105,"L":5.6,"R":5.0},{"t":108,"L":5.9,"R":5.3},{"t":111,"L":5.6,"R":4.0},{"t":114,"L":5.9,"R":5.3},{"t":117,"L":5.5,"R":4.0},{"t":120,"L":5.9,"R":5.3},{"t":123,"L":5.5,"R":5.0},{"t":126,"L":4.3,"R":4.2},{"t":129,"L":4.9,"R":4.6},{"t":132,"L":4.7,"R":3.7},{"t":135,"L":5.4,"R":4.9},{"t":138,"L":5.0,"R":4.6},{"t":141,"L":5.6,"R":5.1},{"t":144,"L":5.3,"R":4.8},{"t":147,"L":5.8,"R":5.2},{"t":150,"L":5.4,"R":4.9},{"t":153,"L":5.7,"R":5.2},{"t":156,"L":5.0,"R":4.6},{"t":159,"L":5.4,"R":4.9},{"t":162,"L":4.9,"R":4.4},{"t":165,"L":5.4,"R":4.9},{"t":168,"L":4.9,"R":4.4},{"t":171,"L":5.4,"R":4.9},{"t":174,"L":4.9,"R":4.4},{"t":177,"L":5.4,"R":4.9},{"t":180,"L":4.9,"R":3.6},{"t":183,"L":5.4,"R":4.9},{"t":186,"L":4.9,"R":4.4},{"t":189,"L":5.4,"R":4.9},{"t":192,"L":4.9,"R":4.4},{"t":195,"L":5.4,"R":4.9},{"t":198,"L":4.9,"R":4.4},{"t":201,"L":5.4,"R":4.9},{"t":204,"L":4.9,"R":3.7},{"t":207,"L":5.4,"R":4.9},{"t":210,"L":4.9,"R":4.4},{"t":213,"L":5.4,"R":4.9},{"t":216,"L":4.9,"R":4.4},{"t":219,"L":5.4,"R":3.0},{"t":222,"L":4.9,"R":4.4},{"t":225,"L":5.4,"R":4.9},{"t":228,"L":4.9,"R":4.4},{"t":231,"L":5.4,"R":4.9},{"t":234,"L":4.9,"R":4.4},{"t":237,"L":5.4,"R":4.9},{"t":240,"L":4.9,"R":4.4},{"t":243,"L":5.3,"R":4.8},{"t":246,"L":4.8,"R":3.7},{"t":249,"L":5.3,"R":4.8},{"t":252,"L":4.7,"R":4.2},{"t":255,"L":5.2,"R":4.7},{"t":258,"L":4.6,"R":4.2},{"t":261,"L":5.1,"R":4.6},{"t":264,"L":4.3,"R":4.1},{"t":267,"L":5.0,"R":4.5},{"t":270,"L":2.2,"R":4.2},{"t":273,"L":5.1,"R":4.6},{"t":276,"L":4.8,"R":4.3},{"t":279,"L":5.3,"R":4.8},{"t":282,"L":4.9,"R":4.4},{"t":285,"L":5.4,"R":4.9},{"t":288,"L":4.9,"R":4.5},{"t":291,"L":5.4,"R":4.9},{"t":294,"L":5.0,"R":4.5},{"t":297,"L":5.5,"R":5.0},{"t":300,"L":5.3,"R":4.8}],
"p10":[{"t":0,"L":5.6,"R":5.1},{"t":3,"L":5.9,"R":5.3},{"t":6,"L":5.5,"R":5.0},{"t":9,"L":3.6,"R":3.3},{"t":12,"L":4.6,"R":4.2},{"t":15,"L":5.1,"R":4.6},{"t":18,"L":4.9,"R":3.7},{"t":21,"L":5.3,"R":4.8},{"t":24,"L":5.0,"R":4.5},{"t":27,"L":5.4,"R":4.9},{"t":30,"L":5.1,"R":4.6},{"t":33,"L":5.5,"R":5.0},{"t":36,"L":5.1,"R":4.6},{"t":39,"L":5.5,"R":5.0},{"t":42,"L":5.1,"R":4.6},{"t":45,"L":5.5,"R":5.0},{"t":48,"L":5.1,"R":4.6},{"t":51,"L":5.5,"R":5.0},{"t":54,"L":5.1,"R":4.6},{"t":57,"L":5.5,"R":5.0},{"t":60,"L":5.1,"R":4.6},{"t":63,"L":5.5,"R":5.0},{"t":66,"L":5.1,"R":4.6},{"t":69,"L":5.5,"R":5.0},{"t":72,"L":5.1,"R":4.6},{"t":75,"L":5.5,"R":5.0},{"t":78,"L":5.1,"R":3.6},{"t":81,"L":5.5,"R":5.0},{"t":84,"L":5.1,"R":4.6},{"t":87,"L":5.5,"R":5.0},{"t":90,"L":5.1,"R":4.6},{"t":93,"L":5.5,"R":5.0},{"t":96,"L":5.1,"R":4.6},{"t":99,"L":5.5,"R":5.0},{"t":102,"L":5.1,"R":4.6},{"t":105,"L":5.5,"R":5.0},{"t":108,"L":5.1,"R":4.6},{"t":111,"L":5.5,"R":5.0},{"t":114,"L":5.1,"R":4.6},{"t":117,"L":5.5,"R":5.0},{"t":120,"L":5.1,"R":4.6},{"t":123,"L":2.6,"R":5.0},{"t":126,"L":5.1,"R":4.6},{"t":129,"L":5.5,"R":5.0},{"t":132,"L":5.1,"R":4.6},{"t":135,"L":5.6,"R":5.1},{"t":138,"L":5.2,"R":4.7},{"t":141,"L":5.6,"R":5.1},{"t":144,"L":5.2,"R":4.7},{"t":147,"L":5.6,"R":5.1},{"t":150,"L":5.2,"R":4.7},{"t":153,"L":5.6,"R":5.1},{"t":156,"L":5.2,"R":3.6},{"t":159,"L":5.7,"R":5.2},{"t":162,"L":5.2,"R":4.7},{"t":165,"L":5.7,"R":5.2},{"t":168,"L":5.3,"R":4.8},{"t":171,"L":5.7,"R":5.2},{"t":174,"L":2.1,"R":3.2},{"t":177,"L":4.4,"R":4.1},{"t":180,"L":4.8,"R":4.4},{"t":183,"L":4.6,"R":4.3},{"t":186,"L":5.2,"R":4.7},{"t":189,"L":5.0,"R":4.5},{"t":192,"L":5.5,"R":5.0},{"t":195,"L":5.1,"R":4.6},{"t":198,"L":5.6,"R":5.0},{"t":201,"L":5.1,"R":4.6},{"t":204,"L":5.5,"R":5.0},{"t":207,"L":5.0,"R":4.5},{"t":210,"L":5.4,"R":4.9},{"t":213,"L":4.9,"R":4.5},{"t":216,"L":5.4,"R":4.9},{"t":219,"L":4.9,"R":4.4},{"t":222,"L":5.4,"R":3.6},{"t":225,"L":4.9,"R":4.4},{"t":228,"L":5.4,"R":4.9},{"t":231,"L":4.9,"R":4.4},{"t":234,"L":5.4,"R":4.9},{"t":237,"L":4.9,"R":4.4},{"t":240,"L":5.4,"R":4.9},{"t":243,"L":4.9,"R":4.4},{"t":246,"L":5.3,"R":4.9},{"t":249,"L":4.8,"R":4.4},{"t":252,"L":5.3,"R":4.9},{"t":255,"L":4.8,"R":4.4},{"t":258,"L":5.3,"R":4.9},{"t":261,"L":4.8,"R":4.4},{"t":264,"L":5.3,"R":4.9},{"t":267,"L":4.8,"R":4.4},{"t":270,"L":5.3,"R":4.9},{"t":273,"L":4.8,"R":4.4},{"t":276,"L":5.3,"R":3.7},{"t":279,"L":4.8,"R":4.4},{"t":282,"L":5.3,"R":4.9},{"t":285,"L":4.8,"R":4.4},{"t":288,"L":5.3,"R":4.9},{"t":291,"L":4.8,"R":4.4},{"t":294,"L":5.3,"R":4.9},{"t":297,"L":4.8,"R":4.4},{"t":300,"L":5.1,"R":4.7}],
"p11":[{"t":0,"L":4.6,"R":5.0},{"t":3,"L":4.3,"R":4.8},{"t":6,"L":4.8,"R":5.2},{"t":9,"L":4.3,"R":4.8},{"t":12,"L":4.8,"R":5.2},{"t":15,"L":4.3,"R":4.8},{"t":18,"L":4.8,"R":5.2},{"t":21,"L":4.4,"R":4.9},{"t":24,"L":4.9,"R":5.2},{"t":27,"L":4.4,"R":4.9},{"t":30,"L":4.9,"R":5.3},{"t":33,"L":4.4,"R":4.9},{"t":36,"L":4.9,"R":5.2},{"t":39,"L":4.4,"R":3.4},{"t":42,"L":4.9,"R":5.2},{"t":45,"L":4.3,"R":4.8},{"t":48,"L":4.8,"R":5.1},{"t":51,"L":4.3,"R":4.7},{"t":54,"L":4.7,"R":5.0},{"t":57,"L":4.1,"R":4.6},{"t":60,"L":4.5,"R":4.9},{"t":63,"L":4.0,"R":4.5},{"t":66,"L":4.5,"R":4.8},{"t":69,"L":4.0,"R":4.5},{"t":72,"L":4.6,"R":4.9},{"t":75,"L":4.2,"R":4.6},{"t":78,"L":4.7,"R":5.0},{"t":81,"L":4.2,"R":4.7},{"t":84,"L":4.7,"R":5.0},{"t":87,"L":4.3,"R":4.7},{"t":90,"L":4.8,"R":5.1},{"t":93,"L":4.3,"R":4.7},{"t":96,"L":4.8,"R":5.0},{"t":99,"L":3.6,"R":4.0},{"t":102,"L":4.1,"R":4.5},{"t":105,"L":3.6,"R":3.9},{"t":108,"L":4.2,"R":4.6},{"t":111,"L":3.6,"R":2.9},{"t":114,"L":4.2,"R":4.6},{"t":117,"L":3.7,"R":4.1},{"t":120,"L":4.3,"R":4.7},{"t":123,"L":3.8,"R":4.2},{"t":126,"L":4.3,"R":4.7},{"t":129,"L":2.6,"R":4.2},{"t":132,"L":4.3,"R":4.7},{"t":135,"L":3.8,"R":4.2},{"t":138,"L":4.3,"R":4.7},{"t":141,"L":3.8,"R":4.2},{"t":144,"L":4.3,"R":2.8},{"t":147,"L":3.8,"R":4.3},{"t":150,"L":3.4,"R":3.7},{"t":153,"L":3.7,"R":4.1},{"t":156,"L":3.2,"R":3.6},{"t":159,"L":3.7,"R":4.1},{"t":162,"L":3.2,"R":3.6},{"t":165,"L":3.8,"R":4.2},{"t":168,"L":3.2,"R":3.6},{"t":171,"L":3.8,"R":4.1},{"t":174,"L":3.2,"R":3.6},{"t":177,"L":3.8,"R":4.2},{"t":180,"L":3.2,"R":3.6},{"t":183,"L":3.8,"R":4.2},{"t":186,"L":3.2,"R":3.6},{"t":189,"L":3.8,"R":4.2},{"t":192,"L":3.2,"R":3.6},{"t":195,"L":3.8,"R":4.2},{"t":198,"L":3.2,"R":3.6},{"t":201,"L":3.8,"R":4.1},{"t":204,"L":3.2,"R":3.6},{"t":207,"L":3.8,"R":4.2},{"t":210,"L":3.2,"R":3.6},{"t":213,"L":3.8,"R":4.2},{"t":216,"L":3.2,"R":3.6},{"t":219,"L":3.8,"R":4.2},{"t":222,"L":3.2,"R":3.6},{"t":225,"L":3.8,"R":4.2},{"t":228,"L":3.3,"R":3.6},{"t":231,"L":3.9,"R":4.2},{"t":234,"L":3.3,"R":3.6},{"t":237,"L":3.9,"R":4.3},{"t":240,"L":3.3,"R":3.7},{"t":243,"L":3.9,"R":4.3},{"t":246,"L":3.3,"R":3.7},{"t":249,"L":3.8,"R":4.2},{"t":252,"L":3.2,"R":3.6},{"t":255,"L":3.7,"R":4.1},{"t":258,"L":3.1,"R":2.8},{"t":261,"L":3.7,"R":4.1},{"t":264,"L":1.6,"R":3.6},{"t":267,"L":4.6,"R":4.2},{"t":270,"L":3.2,"R":3.6},{"t":273,"L":3.8,"R":4.2},{"t":276,"L":3.3,"R":4.9},{"t":279,"L":3.8,"R":2.7},{"t":282,"L":3.3,"R":3.7},{"t":285,"L":3.9,"R":4.2},{"t":288,"L":3.3,"R":3.7},{"t":291,"L":3.9,"R":4.2},{"t":294,"L":3.3,"R":3.7},{"t":297,"L":3.8,"R":4.1},{"t":300,"L":3.5,"R":3.9}],
"p12":[{"t":0,"L":4.0,"R":4.4},{"t":3,"L":4.4,"R":4.8},{"t":6,"L":3.6,"R":4.1},{"t":9,"L":4.3,"R":3.0},{"t":12,"L":3.5,"R":4.0},{"t":15,"L":4.2,"R":4.7},{"t":18,"L":3.5,"R":4.0},{"t":21,"L":4.2,"R":4.6},{"t":24,"L":3.5,"R":4.0},{"t":27,"L":4.2,"R":4.7},{"t":30,"L":3.6,"R":4.0},{"t":33,"L":4.2,"R":4.6},{"t":36,"L":3.5,"R":4.0},{"t":39,"L":4.2,"R":4.7},{"t":42,"L":3.6,"R":4.0},{"t":45,"L":4.2,"R":4.6},{"t":48,"L":3.6,"R":4.1},{"t":51,"L":4.2,"R":4.6},{"t":54,"L":3.6,"R":4.0},{"t":57,"L":4.2,"R":4.6},{"t":60,"L":5.5,"R":4.1},{"t":63,"L":2.6,"R":4.5},{"t":66,"L":3.6,"R":4.1},{"t":69,"L":4.2,"R":4.6},{"t":72,"L":3.6,"R":4.1},{"t":75,"L":4.2,"R":4.6},{"t":78,"L":3.7,"R":4.1},{"t":81,"L":4.3,"R":4.6},{"t":84,"L":3.7,"R":4.1},{"t":87,"L":4.3,"R":4.7},{"t":90,"L":3.7,"R":4.2},{"t":93,"L":4.3,"R":4.7},{"t":96,"L":3.8,"R":4.2},{"t":99,"L":4.4,"R":4.8},{"t":102,"L":3.8,"R":4.3},{"t":105,"L":4.4,"R":4.9},{"t":108,"L":3.8,"R":4.3},{"t":111,"L":4.4,"R":4.9},{"t":114,"L":3.8,"R":4.3},{"t":117,"L":4.4,"R":4.9},{"t":120,"L":3.8,"R":4.3},{"t":123,"L":4.4,"R":4.8},{"t":126,"L":3.8,"R":4.3},{"t":129,"L":4.4,"R":4.8},{"t":132,"L":3.8,"R":4.2},{"t":135,"L":4.3,"R":4.8},{"t":138,"L":3.2,"R":4.2},{"t":141,"L":4.3,"R":2.3},{"t":144,"L":3.8,"R":4.2},{"t":147,"L":4.3,"R":4.8},{"t":150,"L":3.7,"R":4.2},{"t":153,"L":4.3,"R":4.7},{"t":156,"L":3.7,"R":2.4},{"t":159,"L":4.3,"R":4.7},{"t":162,"L":3.7,"R":4.1},{"t":165,"L":4.2,"R":4.7},{"t":168,"L":3.7,"R":4.1},{"t":171,"L":4.2,"R":4.7},{"t":174,"L":3.7,"R":4.1},{"t":177,"L":4.2,"R":4.7},{"t":180,"L":3.7,"R":4.1},{"t":183,"L":4.2,"R":2.8},{"t":186,"L":3.7,"R":4.1},{"t":189,"L":4.3,"R":4.7},{"t":192,"L":3.8,"R":4.2},{"t":195,"L":4.3,"R":4.8},{"t":198,"L":3.8,"R":4.3},{"t":201,"L":5.4,"R":4.9},{"t":204,"L":3.8,"R":4.3},{"t":207,"L":4.4,"R":4.9},{"t":210,"L":3.8,"R":4.3},{"t":213,"L":4.4,"R":4.8},{"t":216,"L":3.8,"R":4.3},{"t":219,"L":4.3,"R":4.8},{"t":222,"L":3.8,"R":4.2},{"t":225,"L":4.3,"R":4.8},{"t":228,"L":3.8,"R":4.2},{"t":231,"L":4.4,"R":4.9},{"t":234,"L":3.8,"R":4.3},{"t":237,"L":4.4,"R":4.9},{"t":240,"L":3.8,"R":4.3},{"t":243,"L":4.3,"R":4.8},{"t":246,"L":3.7,"R":4.2},{"t":249,"L":3.2,"R":4.8},{"t":252,"L":3.7,"R":4.2},{"t":255,"L":4.3,"R":4.7},{"t":258,"L":3.7,"R":4.2},{"t":261,"L":4.3,"R":4.7},{"t":264,"L":3.6,"R":2.8},{"t":267,"L":4.2,"R":4.7},{"t":270,"L":3.5,"R":4.1},{"t":273,"L":4.0,"R":4.5},{"t":276,"L":2.1,"R":3.7},{"t":279,"L":3.8,"R":4.3},{"t":282,"L":3.1,"R":3.6},{"t":285,"L":3.8,"R":4.2},{"t":288,"L":3.1,"R":3.6},{"t":291,"L":3.8,"R":4.2},{"t":294,"L":3.1,"R":3.6},{"t":297,"L":3.8,"R":4.2},{"t":300,"L":3.4,"R":3.9}],
"p13":[{"t":0,"L":3.2,"R":2.9},{"t":3,"L":3.6,"R":3.1},{"t":6,"L":2.8,"R":2.4},{"t":9,"L":3.5,"R":3.0},{"t":12,"L":2.7,"R":2.3},{"t":15,"L":3.5,"R":3.0},{"t":18,"L":2.7,"R":2.3},{"t":21,"L":3.4,"R":3.0},{"t":24,"L":2.7,"R":2.3},{"t":27,"L":3.4,"R":2.9},{"t":30,"L":2.7,"R":2.3},{"t":33,"L":3.5,"R":3.0},{"t":36,"L":2.7,"R":2.3},{"t":39,"L":1.5,"R":2.1},{"t":42,"L":3.5,"R":3.0},{"t":45,"L":2.7,"R":2.3},{"t":48,"L":3.4,"R":2.9},{"t":51,"L":2.7,"R":2.3},{"t":54,"L":3.4,"R":2.9},{"t":57,"L":2.6,"R":2.3},{"t":60,"L":3.3,"R":2.9},{"t":63,"L":2.6,"R":2.2},{"t":66,"L":3.3,"R":2.9},{"t":69,"L":2.6,"R":2.2},{"t":72,"L":3.3,"R":2.8},{"t":75,"L":2.6,"R":2.2},{"t":78,"L":3.3,"R":2.9},{"t":81,"L":2.6,"R":2.2},{"t":84,"L":3.3,"R":2.9},{"t":87,"L":2.6,"R":2.3},{"t":90,"L":3.3,"R":2.9},{"t":93,"L":2.6,"R":2.2},{"t":96,"L":3.3,"R":2.8},{"t":99,"L":2.6,"R":2.2},{"t":102,"L":3.3,"R":2.8},{"t":105,"L":2.6,"R":2.2},{"t":108,"L":1.5,"R":2.8},{"t":111,"L":2.6,"R":2.2},{"t":114,"L":3.3,"R":2.8},{"t":117,"L":2.6,"R":2.2},{"t":120,"L":3.3,"R":2.9},{"t":123,"L":2.6,"R":2.2},{"t":126,"L":3.4,"R":2.9},{"t":129,"L":2.7,"R":2.2},{"t":132,"L":3.4,"R":2.9},{"t":135,"L":2.7,"R":1.9},{"t":138,"L":3.4,"R":2.9},{"t":141,"L":2.7,"R":2.3},{"t":144,"L":3.4,"R":2.9},{"t":147,"L":2.8,"R":2.3},{"t":150,"L":3.2,"R":2.7},{"t":153,"L":2.3,"R":2.0},{"t":156,"L":2.9,"R":2.4},{"t":159,"L":2.2,"R":1.9},{"t":162,"L":2.9,"R":1.1},{"t":165,"L":2.2,"R":1.9},{"t":168,"L":2.8,"R":2.4},{"t":171,"L":2.2,"R":1.9},{"t":174,"L":1.1,"R":2.4},{"t":177,"L":2.2,"R":1.9},{"t":180,"L":2.8,"R":2.4},{"t":183,"L":2.1,"R":1.8},{"t":186,"L":2.8,"R":2.4},{"t":189,"L":2.1,"R":1.8},{"t":192,"L":2.8,"R":2.4},{"t":195,"L":2.1,"R":1.8},{"t":198,"L":2.8,"R":2.4},{"t":201,"L":2.1,"R":1.9},{"t":204,"L":2.8,"R":2.4},{"t":207,"L":2.2,"R":1.9},{"t":210,"L":2.9,"R":2.4},{"t":213,"L":2.2,"R":1.9},{"t":216,"L":2.8,"R":1.6},{"t":219,"L":2.2,"R":1.9},{"t":222,"L":2.8,"R":2.4},{"t":225,"L":2.1,"R":1.8},{"t":228,"L":2.8,"R":2.4},{"t":231,"L":2.1,"R":1.8},{"t":234,"L":2.7,"R":2.3},{"t":237,"L":2.1,"R":1.8},{"t":240,"L":2.7,"R":2.3},{"t":243,"L":2.1,"R":1.8},{"t":246,"L":2.7,"R":2.3},{"t":249,"L":2.1,"R":1.8},{"t":252,"L":2.6,"R":0.9},{"t":255,"L":2.1,"R":1.8},{"t":258,"L":2.7,"R":2.3},{"t":261,"L":1.0,"R":1.8},{"t":264,"L":2.7,"R":1.2},{"t":267,"L":2.1,"R":1.8},{"t":270,"L":2.8,"R":2.4},{"t":273,"L":2.1,"R":1.8},{"t":276,"L":2.7,"R":2.3},{"t":279,"L":2.1,"R":1.8},{"t":282,"L":0.8,"R":2.3},{"t":285,"L":2.1,"R":1.8},{"t":288,"L":2.7,"R":2.3},{"t":291,"L":1.5,"R":1.8},{"t":294,"L":2.7,"R":2.3},{"t":297,"L":2.1,"R":1.8},{"t":300,"L":2.4,"R":2.1}],
"p14":[{"t":0,"L":2.8,"R":2.5},{"t":3,"L":3.4,"R":2.9},{"t":6,"L":2.6,"R":2.2},{"t":9,"L":3.3,"R":2.8},{"t":12,"L":2.4,"R":2.0},{"t":15,"L":3.1,"R":2.6},{"t":18,"L":2.3,"R":2.0},{"t":21,"L":3.1,"R":2.6},{"t":24,"L":2.3,"R":2.0},{"t":27,"L":3.1,"R":2.6},{"t":30,"L":2.3,"R":1.9},{"t":33,"L":3.1,"R":2.6},{"t":36,"L":2.3,"R":2.0},{"t":39,"L":3.1,"R":2.6},{"t":42,"L":2.3,"R":2.0},{"t":45,"L":3.1,"R":2.6},{"t":48,"L":2.3,"R":2.0},{"t":51,"L":3.0,"R":2.6},{"t":54,"L":2.3,"R":2.0},{"t":57,"L":3.0,"R":2.5},{"t":60,"L":2.2,"R":1.9},{"t":63,"L":3.0,"R":2.6},{"t":66,"L":2.3,"R":1.9},{"t":69,"L":3.0,"R":2.6},{"t":72,"L":2.3,"R":1.9},{"t":75,"L":3.0,"R":2.5},{"t":78,"L":2.2,"R":1.9},{"t":81,"L":3.0,"R":2.6},{"t":84,"L":2.2,"R":1.9},{"t":87,"L":3.0,"R":2.6},{"t":90,"L":2.2,"R":1.9},{"t":93,"L":3.0,"R":2.5},{"t":96,"L":2.2,"R":1.9},{"t":99,"L":3.0,"R":2.6},{"t":102,"L":2.2,"R":1.9},{"t":105,"L":3.0,"R":2.6},{"t":108,"L":2.2,"R":1.9},{"t":111,"L":3.0,"R":2.6},{"t":114,"L":2.2,"R":1.9},{"t":117,"L":3.0,"R":1.6},{"t":120,"L":2.2,"R":1.9},{"t":123,"L":3.0,"R":2.5},{"t":126,"L":2.2,"R":1.9},{"t":129,"L":2.9,"R":2.5},{"t":132,"L":2.2,"R":1.9},{"t":135,"L":1.0,"R":2.5},{"t":138,"L":2.2,"R":1.9},{"t":141,"L":2.9,"R":4.0},{"t":144,"L":2.1,"R":1.0},{"t":147,"L":2.9,"R":2.5},{"t":150,"L":2.1,"R":1.8},{"t":153,"L":2.9,"R":2.5},{"t":156,"L":2.1,"R":1.8},{"t":159,"L":2.8,"R":2.4},{"t":162,"L":2.1,"R":1.8},{"t":165,"L":2.8,"R":2.4},{"t":168,"L":2.1,"R":1.8},{"t":171,"L":2.8,"R":2.4},{"t":174,"L":2.1,"R":1.8},{"t":177,"L":2.8,"R":2.4},{"t":180,"L":2.1,"R":1.8},{"t":183,"L":2.8,"R":2.4},{"t":186,"L":2.1,"R":1.8},{"t":189,"L":2.8,"R":2.4},{"t":192,"L":2.1,"R":1.8},{"t":195,"L":2.8,"R":1.0},{"t":198,"L":1.3,"R":1.8},{"t":201,"L":2.9,"R":2.5},{"t":204,"L":2.2,"R":1.9},{"t":207,"L":2.9,"R":2.5},{"t":210,"L":2.2,"R":1.9},{"t":213,"L":2.9,"R":2.5},{"t":216,"L":2.2,"R":1.9},{"t":219,"L":2.9,"R":2.4},{"t":222,"L":2.2,"R":1.8},{"t":225,"L":2.8,"R":2.4},{"t":228,"L":2.1,"R":1.8},{"t":231,"L":2.8,"R":2.4},{"t":234,"L":2.1,"R":1.8},{"t":237,"L":1.5,"R":2.4},{"t":240,"L":2.1,"R":1.5},{"t":243,"L":2.8,"R":2.4},{"t":246,"L":2.1,"R":1.8},{"t":249,"L":2.8,"R":2.4},{"t":252,"L":2.1,"R":1.8},{"t":255,"L":2.8,"R":2.4},{"t":258,"L":2.1,"R":1.8},{"t":261,"L":2.8,"R":2.4},{"t":264,"L":2.1,"R":1.8},{"t":267,"L":2.9,"R":2.5},{"t":270,"L":2.2,"R":1.9},{"t":273,"L":2.9,"R":2.5},{"t":276,"L":2.2,"R":1.9},{"t":279,"L":2.9,"R":2.5},{"t":282,"L":2.2,"R":1.9},{"t":285,"L":3.0,"R":2.5},{"t":288,"L":2.2,"R":1.9},{"t":291,"L":3.0,"R":2.6},{"t":294,"L":2.3,"R":1.9},{"t":297,"L":3.1,"R":2.6},{"t":300,"L":2.6,"R":2.2}]
},
"title":{"text":"Time [s]","orient":"bottom","fontSize":41,"fontWeight":"normal","offset":9},
"vconcat":[{
"title":{"text":"Pupil diameter [mm]","orient":"left","fontSize":42,"fontWeight":"normal","offset":19},
"columns":2,"spacing":{"row":88,"column":208},"bounds":"flush",
"resolve":{"scale":{"color":"independent"},"legend":{"color":"independent"}},
"concat":[
{"title":"Subject #1- Pro-saccade","data":{"name":"p1"},"transform":[{"fold":["L","R"],"as":["eye","d"]}],"mark":"line","encoding":{"x":{"field":"t","type":"quantitative","scale":{"domain":[0,300]},"title":null},"y":{"field":"d","type":"quantitative","scale":{"domain":[0,8]},"title":null},"color":{"field":"eye","type":"nominal","legend":{"title":null,"orient":"none","legendX":508,"legendY":12,"symbolType":"M-5,0H5","labelExpr":"datum.label=='L'?'Left':'Right'"}}}},
{"title":"Subject #1- Anti-saccade","data":{"name":"p2"},"transform":[{"fold":["L","R"],"as":["eye","d"]}],"mark":"line","encoding":{"x":{"field":"t","type":"quantitative","scale":{"domain":[0,300]},"title":null},"y":{"field":"d","type":"quantitative","scale":{"domain":[0,8]},"title":null},"color":{"field":"eye","type":"nominal","legend":{"title":null,"orient":"none","legendX":508,"legendY":12,"symbolType":"M-5,0H5","labelExpr":"datum.label=='L'?'Left':'Right'"}}}},
{"title":"Subject #2- Pro-saccade","data":{"name":"p3"},"transform":[{"fold":["L","R"],"as":["eye","d"]}],"mark":"line","encoding":{"x":{"field":"t","type":"quantitative","scale":{"domain":[0,300]},"title":null},"y":{"field":"d","type":"quantitative","scale":{"domain":[0,8]},"title":null},"color":{"field":"eye","type":"nominal","legend":{"title":null,"orient":"none","legendX":508,"legendY":12,"symbolType":"M-5,0H5","labelExpr":"datum.label=='L'?'Left':'Right'"}}}},
{"title":"Subject #2- Anti-saccade","data":{"name":"p4"},"transform":[{"fold":["L","R"],"as":["eye","d"]}],"mark":"line","encoding":{"x":{"field":"t","type":"quantitative","scale":{"domain":[0,300]},"title":null},"y":{"field":"d","type":"quantitative","scale":{"domain":[0,8]},"title":null},"color":{"field":"eye","type":"nominal","legend":{"title":null,"orient":"none","legendX":508,"legendY":12,"symbolType":"M-5,0H5","labelExpr":"datum.label=='L'?'Left':'Right'"}}}},
{"title":"Subject #3- Pro-saccade","data":{"name":"p5"},"transform":[{"fold":["L","R"],"as":["eye","d"]}],"mark":"line","encoding":{"x":{"field":"t","type":"quantitative","scale":{"domain":[0,300]},"title":null},"y":{"field":"d","type":"quantitative","scale":{"domain":[0,8]},"title":null},"color":{"field":"eye","type":"nominal","legend":{"title":null,"orient":"none","legendX":508,"legendY":12,"symbolType":"M-5,0H5","labelExpr":"datum.label=='L'?'Left':'Right'"}}}},
{"title":"Subject #3- Anti-saccade","data":{"name":"p6"},"transform":[{"fold":["L","R"],"as":["eye","d"]}],"mark":"line","encoding":{"x":{"field":"t","type":"quantitative","scale":{"domain":[0,300]},"title":null},"y":{"field":"d","type":"quantitative","scale":{"domain":[0,8]},"title":null},"color":{"field":"eye","type":"nominal","legend":{"title":null,"orient":"none","legendX":508,"legendY":12,"symbolType":"M-5,0H5","labelExpr":"datum.label=='L'?'Left':'Right'"}}}},
{"title":"Subject #4- Pro-saccade","data":{"name":"p7"},"transform":[{"fold":["L","R"],"as":["eye","d"]}],"mark":"line","encoding":{"x":{"field":"t","type":"quantitative","scale":{"domain":[0,300]},"title":null},"y":{"field":"d","type":"quantitative","scale":{"domain":[0,8]},"title":null},"color":{"field":"eye","type":"nominal","legend":{"title":null,"orient":"none","legendX":508,"legendY":12,"symbolType":"M-5,0H5","labelExpr":"datum.label=='L'?'Left':'Right'"}}}},
{"title":"Subject #4- Anti-saccade","data":{"name":"p8"},"transform":[{"fold":["L","R"],"as":["eye","d"]}],"mark":"line","encoding":{"x":{"field":"t","type":"quantitative","scale":{"domain":[0,300]},"title":null},"y":{"field":"d","type":"quantitative","scale":{"domain":[0,8]},"title":null},"color":{"field":"eye","type":"nominal","legend":{"title":null,"orient":"none","legendX":508,"legendY":12,"symbolType":"M-5,0H5","labelExpr":"datum.label=='L'?'Left':'Right'"}}}},
{"title":"Subject #5- Pro-saccade","data":{"name":"p9"},"transform":[{"fold":["L","R"],"as":["eye","d"]}],"mark":"line","encoding":{"x":{"field":"t","type":"quantitative","scale":{"domain":[0,300]},"title":null},"y":{"field":"d","type":"quantitative","scale":{"domain":[0,8]},"title":null},"color":{"field":"eye","type":"nominal","legend":{"title":null,"orient":"none","legendX":508,"legendY":12,"symbolType":"M-5,0H5","labelExpr":"datum.label=='L'?'Left':'Right'"}}}},
{"title":"Subject #5- Anti-saccade","data":{"name":"p10"},"transform":[{"fold":["L","R"],"as":["eye","d"]}],"mark":"line","encoding":{"x":{"field":"t","type":"quantitative","scale":{"domain":[0,300]},"title":null},"y":{"field":"d","type":"quantitative","scale":{"domain":[0,8]},"title":null},"color":{"field":"eye","type":"nominal","legend":{"title":null,"orient":"none","legendX":508,"legendY":12,"symbolType":"M-5,0H5","labelExpr":"datum.label=='L'?'Left':'Right'"}}}},
{"title":"Subject #6- Pro-saccade","data":{"name":"p11"},"transform":[{"fold":["L","R"],"as":["eye","d"]}],"mark":"line","encoding":{"x":{"field":"t","type":"quantitative","scale":{"domain":[0,300]},"title":null},"y":{"field":"d","type":"quantitative","scale":{"domain":[0,8]},"title":null},"color":{"field":"eye","type":"nominal","legend":{"title":null,"orient":"none","legendX":508,"legendY":12,"symbolType":"M-5,0H5","labelExpr":"datum.label=='L'?'Left':'Right'"}}}},
{"title":"Subject #6- Anti-saccade","data":{"name":"p12"},"transform":[{"fold":["L","R"],"as":["eye","d"]}],"mark":"line","encoding":{"x":{"field":"t","type":"quantitative","scale":{"domain":[0,300]},"title":null},"y":{"field":"d","type":"quantitative","scale":{"domain":[0,8]},"title":null},"color":{"field":"eye","type":"nominal","legend":{"title":null,"orient":"none","legendX":508,"legendY":12,"symbolType":"M-5,0H5","labelExpr":"datum.label=='L'?'Left':'Right'"}}}},
{"title":"Subject #7- Pro-saccade","data":{"name":"p13"},"transform":[{"fold":["L","R"],"as":["eye","d"]}],"mark":"line","encoding":{"x":{"field":"t","type":"quantitative","scale":{"domain":[0,300]},"title":null},"y":{"field":"d","type":"quantitative","scale":{"domain":[0,8]},"title":null},"color":{"field":"eye","type":"nominal","legend":{"title":null,"orient":"none","legendX":508,"legendY":12,"symbolType":"M-5,0H5","labelExpr":"datum.label=='L'?'Left':'Right'"}}}},
{"title":"Subject #7- Anti-saccade","data":{"name":"p14"},"transform":[{"fold":["L","R"],"as":["eye","d"]}],"mark":"line","encoding":{"x":{"field":"t","type":"quantitative","scale":{"domain":[0,300]},"title":null},"y":{"field":"d","type":"quantitative","scale":{"domain":[0,8]},"title":null},"color":{"field":"eye","type":"nominal","legend":{"title":null,"orient":"none","legendX":508,"legendY":12,"symbolType":"M-5,0H5","labelExpr":"datum.label=='L'?'Left':'Right'"}}}}
]}],
"config":{
"font":"Liberation Serif",
"view":{"continuousWidth":666,"continuousHeight":180,"stroke":"#262626","strokeWidth":1},
"title":{"font":"Liberation Serif","fontSize":28,"fontWeight":"bold","color":"#000000","offset":-12,"anchor":"middle"},
"axis":{"labelFont":"Liberation Serif","labelFontSize":27,"labelColor":"#000000","grid":true,"gridWidth":1,"domain":false,"tickColor":"#262626","tickSize":-8,"tickWidth":1},
"axisX":{"tickCount":6,"labelPadding":23,"labelFlush":false,"gridColor":{"condition":{"test":"datum.value===0||datum.value===300","value":"#262626"},"value":"#dedede"}},
"axisY":{"tickCount":4,"labelPadding":19,"gridColor":{"condition":{"test":"datum.value===0||datum.value===8","value":"#262626"},"value":"#dedede"}},
"line":{"strokeWidth":0.9},
"range":{"category":["#0072BD","#D95319"]},
"legend":{"labelFont":"Liberation Serif","labelFontSize":18,"labelColor":"#000000","fillColor":"#ffffff","strokeColor":"#262626","padding":8,"rowPadding":6,"symbolSize":196,"symbolStrokeWidth":1.3,"symbolOpacity":0.55,"symbolOffset":27,"labelOffset":38}
}
}
